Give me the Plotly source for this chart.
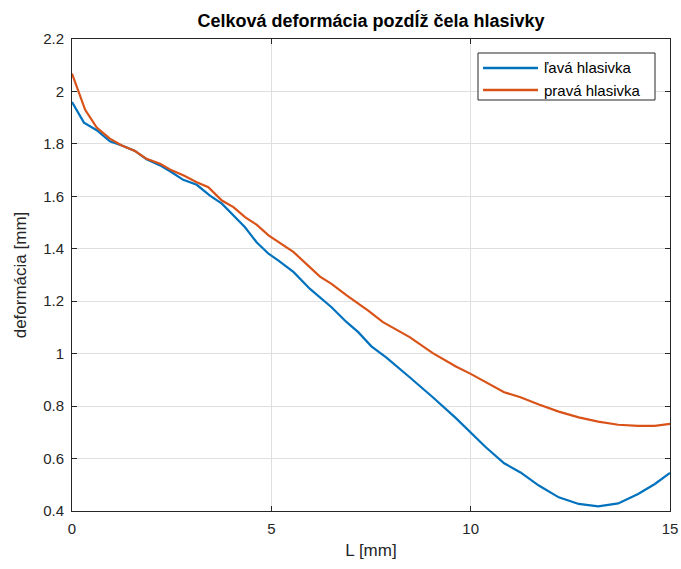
import plotly.graph_objects as go

x_lava = [0, 0.30, 0.62, 0.95, 1.25, 1.58, 1.87, 2.21, 2.50, 2.79, 3.13, 3.46, 3.76, 4.05, 4.34,
          4.63, 4.93, 5.18, 5.56, 5.97, 6.51, 6.89, 7.18, 7.51, 7.88, 8.47, 9.05, 9.63, 10.0,
          10.38, 10.84, 11.25, 11.71, 12.21, 12.71, 13.2, 13.7, 14.2, 14.62, 15.0]
y_lava = [1.960, 1.881, 1.852, 1.810, 1.794, 1.773, 1.741, 1.718, 1.692, 1.663, 1.644, 1.603,
          1.572, 1.527, 1.482, 1.425, 1.381, 1.355, 1.311, 1.247, 1.177, 1.120, 1.082, 1.028,
          0.986, 0.910, 0.834, 0.754, 0.700, 0.643, 0.582, 0.547, 0.497, 0.452, 0.427, 0.418,
          0.429, 0.465, 0.503, 0.545]

x_prava = [0, 0.33, 0.62, 0.95, 1.25, 1.58, 1.87, 2.21, 2.50, 2.79, 3.13, 3.42, 3.76, 4.05,
           4.34, 4.63, 4.93, 5.18, 5.56, 6.22, 6.51, 6.89, 7.43, 7.80, 8.47, 9.05, 9.63, 10.0,
           10.38, 10.84, 11.25, 11.71, 12.21, 12.71, 13.2, 13.7, 14.2, 14.62, 15.0]
y_prava = [2.068, 1.930, 1.862, 1.820, 1.794, 1.773, 1.743, 1.724, 1.699, 1.680, 1.654, 1.635,
           1.584, 1.559, 1.521, 1.492, 1.451, 1.425, 1.387, 1.294, 1.266, 1.222, 1.164, 1.120,
           1.063, 1.002, 0.951, 0.923, 0.891, 0.853, 0.834, 0.806, 0.779, 0.757, 0.741, 0.729,
           0.725, 0.725, 0.732]

series_names = ["ľavá hlasivka", "pravá hlasivka"]
series_colors = ["#0072BD", "#D95319"]

x_ticks = [0, 5, 10, 15]
y_ticks = [0.4, 0.6, 0.8, 1.0, 1.2, 1.4, 1.6, 1.8, 2.0, 2.2]
y_ticktext = ["0.4", "0.6", "0.8", "1", "1.2", "1.4", "1.6", "1.8", "2", "2.2"]

FONT = "Liberation Sans, Arial, sans-serif"
AX = "#262626"
W, H = 681, 569
# target plot area on the page: x 72..670, y 39..511
L, T = 72, 39
R = W - 670
B = H - 511
PW, PH = W - L - R, H - T - B


def px_x(p):  # page pixel -> paper fraction
    return (p - L) / PW


def px_y(p):
    return (H - B - p) / PH


fig = go.Figure()
for xs, ys, nm, col in [(x_lava, y_lava, series_names[0], series_colors[0]),
                        (x_prava, y_prava, series_names[1], series_colors[1])]:
    fig.add_trace(go.Scatter(x=xs, y=ys, mode="lines", name=nm,
                             line=dict(color=col, width=2.2), showlegend=False))

axis_common = dict(showline=True, linecolor=AX, linewidth=1, mirror="ticks",
                   ticks="inside", ticklen=5, tickcolor=AX, automargin=False,
                   showgrid=True, gridcolor="#DFDFDF", gridwidth=1, zeroline=False,
                   ticklabelstandoff=4,
                   tickfont=dict(family=FONT, size=15, color=AX))

fig.update_xaxes(range=[0, 15], tickvals=x_ticks,
                 title=dict(text="L [mm]", font=dict(family=FONT, size=17, color=AX), standoff=8),
                 **axis_common)
fig.update_yaxes(range=[0.4, 2.2], tickvals=y_ticks, ticktext=y_ticktext,
                 title=dict(text="deformácia [mm]", font=dict(family=FONT, size=17, color=AX), standoff=12),
                 **axis_common)

# legend drawn manually (MATLAB-style wide line samples)
shapes = [dict(type="rect", xref="paper", yref="paper",
               x0=px_x(478), x1=px_x(655), y0=px_y(100), y1=px_y(53),
               line=dict(color=AX, width=1), fillcolor="white", layer="above")]
annotations = []
rows = [68, 90]
for nm, col, ry in zip(series_names, series_colors, rows):
    shapes.append(dict(type="line", xref="paper", yref="paper",
                       x0=px_x(483), x1=px_x(538), y0=px_y(ry), y1=px_y(ry),
                       line=dict(color=col, width=2.5), layer="above"))
    annotations.append(dict(xref="paper", yref="paper", x=px_x(542), y=px_y(ry),
                            xanchor="left", yanchor="middle", text=nm, showarrow=False,
                            font=dict(family=FONT, size=15, color="black")))

fig.update_layout(
    width=W, height=H,
    margin=dict(l=L, r=R, t=T, b=B),
    plot_bgcolor="white", paper_bgcolor="white",
    title=dict(text="<b>Celková deformácia pozdĺž čela hlasivky</b>",
               font=dict(family=FONT, size=18, color="black"),
               x=(L + PW / 2) / W, xanchor="center",
               y=1 - 21 / H, yref="container", yanchor="middle"),
    shapes=shapes, annotations=annotations,
    showlegend=False,
)

fig.write_html("out.html",
               config={"displayModeBar": False},
               post_script="document.body.style.margin='0';document.body.style.overflow='hidden';")
